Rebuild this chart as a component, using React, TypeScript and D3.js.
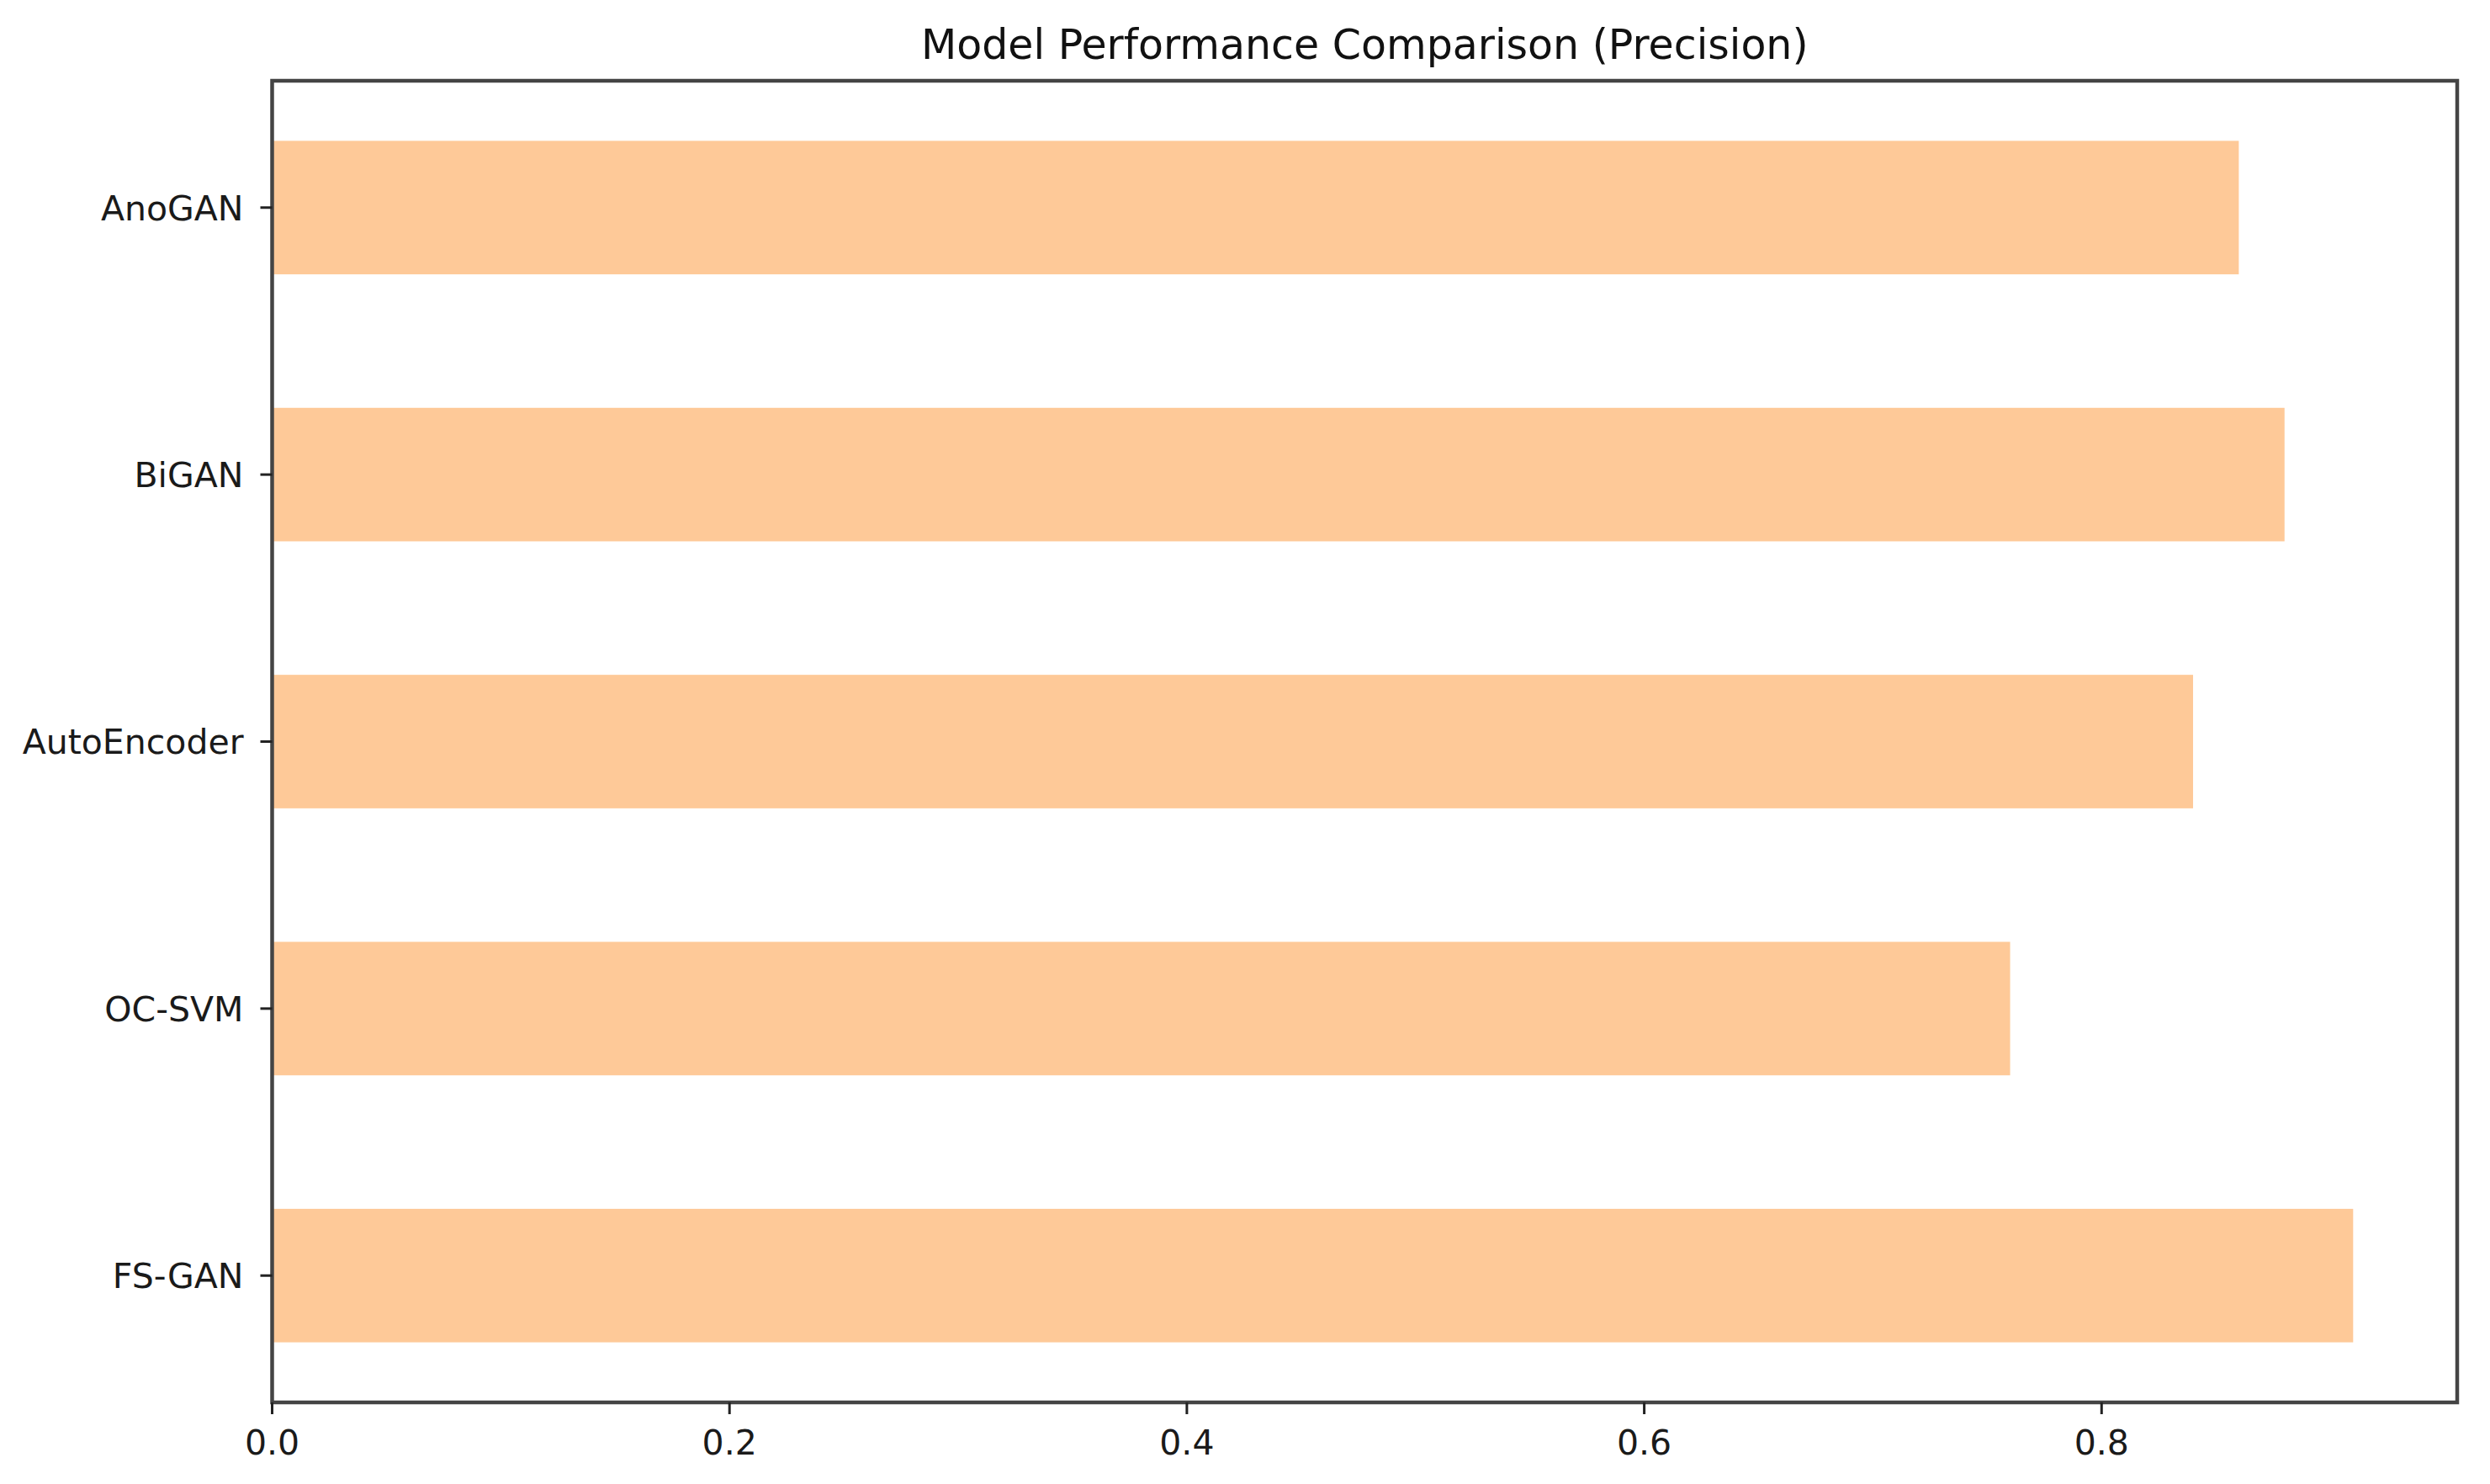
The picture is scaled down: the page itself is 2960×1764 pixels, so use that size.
import React from "react";
import * as d3 from "d3";

const categories = ["AnoGAN", "BiGAN", "AutoEncoder", "OC-SVM", "FS-GAN"];
const precision = [0.86, 0.88, 0.84, 0.76, 0.91];
const xTicks = [0.0, 0.2, 0.4, 0.6, 0.8];
const title = "Model Performance Comparison (Precision)";

const W = 2960;
const H = 1764;
const M = { left: 323.5, right: 2921, top: 96, bottom: 1667 };
const FONT = "'DejaVu Sans', Verdana, sans-serif";

export default function App() {
  const x = d3
    .scaleLinear()
    .domain([0, (d3.max(precision) as number) * 1.05])
    .range([M.left, M.right]);
  const y = d3
    .scaleBand<string>()
    .domain(categories)
    .range([M.top, M.bottom])
    .paddingInner(0.5)
    .paddingOuter(0.225);

  const tickLen = 14;
  const axisColor = "#444";

  return (
    <div style={{ position: "absolute", left: 0, top: 0 }}>
      <svg width={W} height={H} xmlns="http://www.w3.org/2000/svg" style={{ display: "block", background: "#fff" }}>
        <rect x={0} y={0} width={W} height={H} fill="#fff" />
        {categories.map((c, i) => (
          <rect
            key={c}
            x={x(0)}
            y={y(c)}
            width={x(precision[i]) - x(0)}
            height={y.bandwidth()}
            fill="#fec998"
          />
        ))}
        <rect
          x={M.left}
          y={M.top}
          width={M.right - M.left}
          height={M.bottom - M.top}
          fill="none"
          stroke={axisColor}
          strokeWidth={4.5}
        />
        {xTicks.map((t) => (
          <g key={t}>
            <line x1={x(t)} x2={x(t)} y1={M.bottom} y2={M.bottom + tickLen} stroke="#222" strokeWidth={3} />
            <text
              x={x(t)}
              y={M.bottom + 62}
              textAnchor="middle"
              fontFamily={FONT}
              fontSize={41}
              fill="#1a1a1a"
            >
              {t.toFixed(1)}
            </text>
          </g>
        ))}
        {categories.map((c) => {
          const cy = (y(c) as number) + y.bandwidth() / 2;
          return (
            <g key={c}>
              <line x1={M.left - tickLen} x2={M.left} y1={cy} y2={cy} stroke="#222" strokeWidth={3} />
              <text
                x={M.left - tickLen - 20}
                y={cy}
                dy="0.36em"
                textAnchor="end"
                fontFamily={FONT}
                fontSize={41}
                fill="#1a1a1a"
              >
                {c}
              </text>
            </g>
          );
        })}
        <text
          x={(M.left + M.right) / 2}
          y={70}
          textAnchor="middle"
          fontFamily={FONT}
          fontSize={49}
          fill="#111"
        >
          {title}
        </text>
      </svg>
    </div>
  );
}
